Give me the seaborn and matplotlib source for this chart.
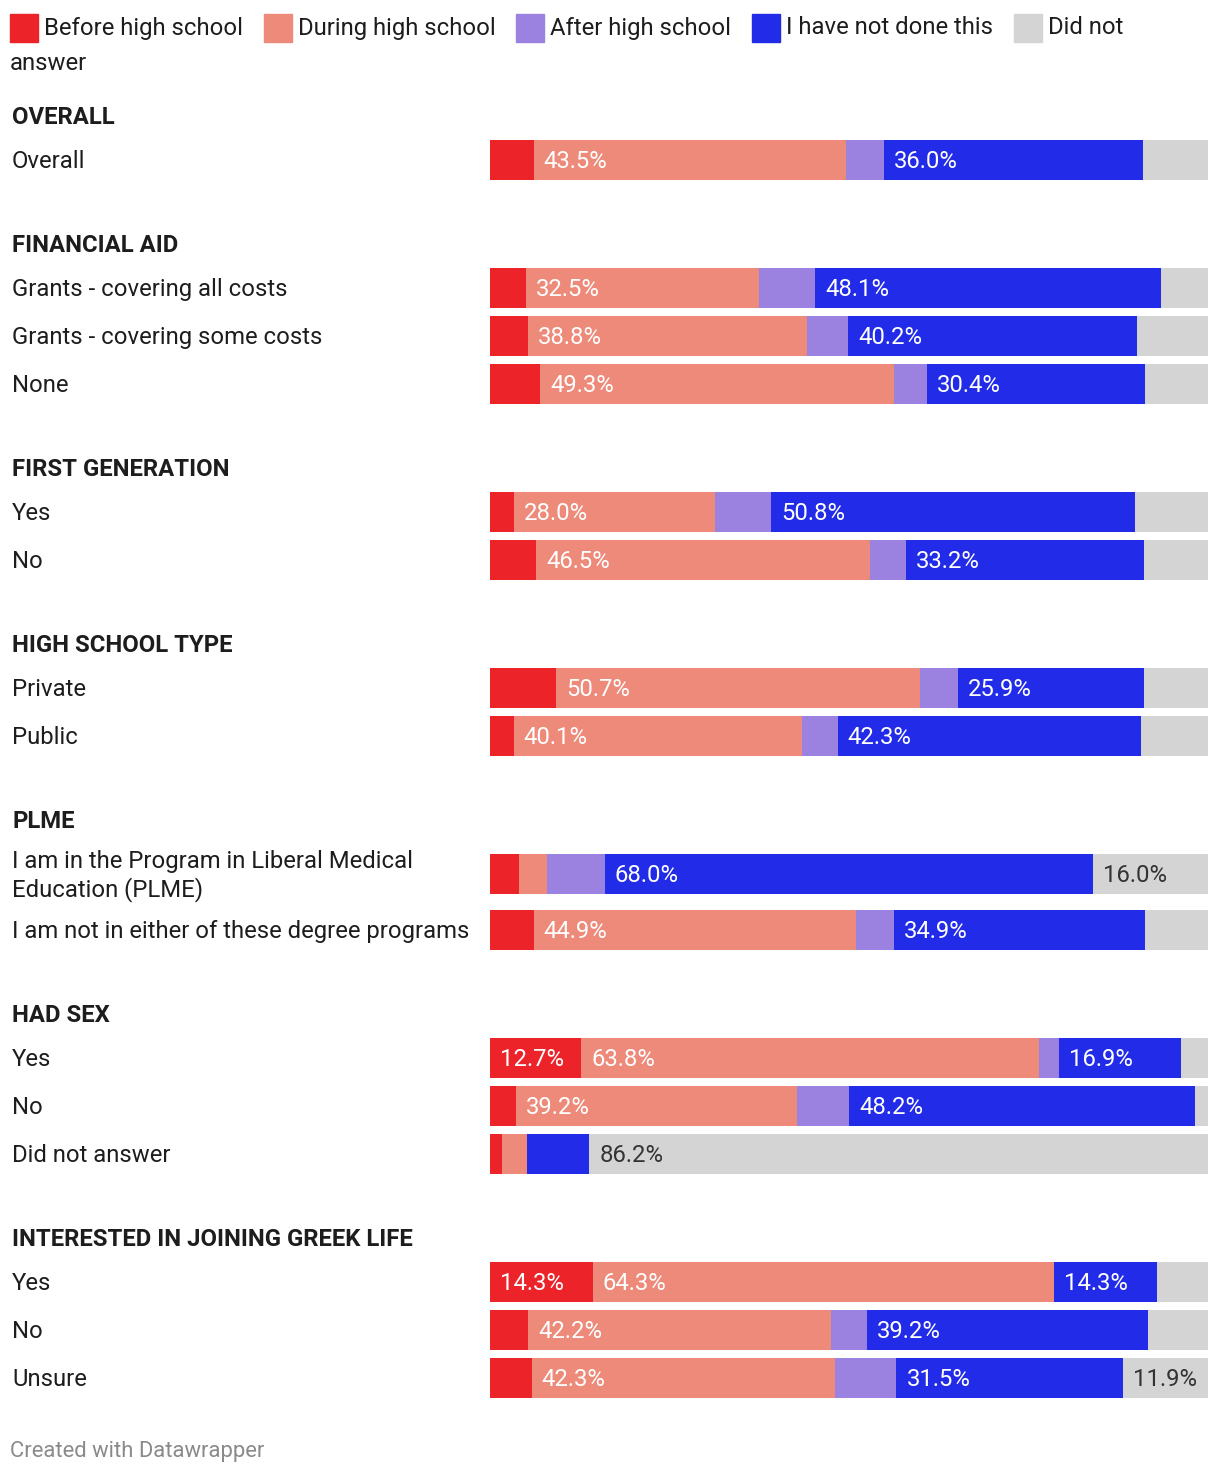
import numpy as np
import pandas as pd
import seaborn as sns
import matplotlib.pyplot as plt
from matplotlib.patches import Rectangle

# Data (percent of respondents)
series_names = ["Before high school", "During high school", "After high school",
                "I have not done this", "Did not answer"]
colors = ["#ec2329", "#ed8a7a", "#9b82e0", "#222ce8", "#d4d4d4"]

groups = ["OVERALL", "FINANCIAL AID", "FIRST GENERATION", "HIGH SCHOOL TYPE",
          "PLME", "HAD SEX", "INTERESTED IN JOINING GREEK LIFE"]
row_group = [0, 1, 1, 1, 2, 2, 3, 3, 4, 4, 5, 5, 5, 6, 6, 6]
row_labels = ["Overall",
              "Grants - covering all costs", "Grants - covering some costs", "None",
              "Yes", "No",
              "Private", "Public",
              "I am in the Program in Liberal Medical\nEducation (PLME)",
              "I am not in either of these degree programs",
              "Yes", "No", "Did not answer",
              "Yes", "No", "Unsure"]

before = [6.1, 5.0, 5.3, 7.0, 3.3, 6.4, 9.2, 3.3, 4.0, 6.1, 12.7, 3.6, 1.7, 14.3, 5.3, 5.8]
during = [43.5, 32.5, 38.8, 49.3, 28.0, 46.5, 50.7, 40.1, 4.0, 44.9, 63.8, 39.2, 3.5, 64.3, 42.2, 42.3]
after = [5.3, 7.8, 5.8, 4.5, 7.8, 5.0, 5.3, 5.0, 8.0, 5.3, 2.8, 7.2, 0.0, 0.0, 5.0, 8.5]
not_done = [36.0, 48.1, 40.2, 30.4, 50.8, 33.2, 25.9, 42.3, 68.0, 34.9, 16.9, 48.2, 8.6, 14.3, 39.2, 31.5]
no_answer = [9.1, 6.6, 9.9, 8.8, 10.1, 8.9, 8.9, 9.3, 16.0, 8.8, 3.8, 1.8, 86.2, 7.1, 8.3, 11.9]

sns.set_style("white")
plt.rcParams['font.family'] = ['Roboto', 'DejaVu Sans']

W, H = 1220, 1476
TXT = "#1d1d1d"
FS = 17.2
DY = 1.8  # text baseline nudge in pixels

# vertical layout in pixels from the top
pos, heads = [], []
y = 116 - 84
cur = None
for lab, g in zip(row_labels, row_group):
    tall = "\n" in lab
    if g != cur:
        y += 84
        heads.append(y)
        y += 44
        cur = g
    else:
        y += 48
    if tall:
        y += 10
    pos.append(y)
    if tall:
        y += 8

df = pd.DataFrame({"pos": pos, "label": row_labels,
                   series_names[0]: before, series_names[1]: during,
                   series_names[2]: after, series_names[3]: not_done,
                   series_names[4]: no_answer})
cum = df[series_names].cumsum(axis=1)

fig = plt.figure(figsize=(W / 100, H / 100), dpi=100)
ax = fig.add_axes([490 / W, 0, 718 / W, 1])

# stacked bars: draw cumulative totals from the longest to the shortest
for k in reversed(range(len(series_names))):
    sns.barplot(x=cum[series_names[k]], y=df["pos"], orient="h", native_scale=True,
                color=colors[k], saturation=1, width=40 / 48, errorbar=None,
                linewidth=0, ax=ax)

ax.set_xlim(0, 100)
ax.set_ylim(H, 0)
ax.axis("off")

# value labels inside segments
for i in range(len(df)):
    start = 0
    for k, name in enumerate(series_names):
        v = df[name].iloc[i]
        if v >= 10.5:
            c = "#333333" if k == 4 else "white"
            ax.text(start + 1.4, df["pos"].iloc[i] + DY, f"{v:.1f}%", color=c,
                    fontsize=FS, va="center", ha="left")
        start += v

# row labels and group headers
for lab, p in zip(row_labels, pos):
    fig.text(12 / W, 1 - (p + DY) / H, lab, fontsize=FS, color=TXT, va="center",
             ha="left", linespacing=1.22)
for g, hy in zip(groups, heads):
    fig.text(12 / W, 1 - (hy + DY) / H, g, fontsize=FS, color=TXT, va="center",
             ha="left", fontweight="bold")

# legend
sq_x = [10, 264, 516, 752, 1014]
for k, name in enumerate(series_names):
    fig.patches.append(Rectangle((sq_x[k] / W, 1 - 42 / H), 28 / W, 28 / H,
                                 transform=fig.transFigure, color=colors[k]))
    txt = name
    if k == 4:
        txt, rest = name.rsplit(" ", 1)
        fig.text(10 / W, 1 - 63 / H, rest, fontsize=FS, color=TXT, va="center")
    fig.text((sq_x[k] + 34) / W, 1 - 28 / H, txt, fontsize=FS, color=TXT, va="center")

fig.text(10 / W, 1 - 1451 / H, "Created with Datawrapper", fontsize=15.8,
         color="#8a8a8a", va="center")

fig.savefig("out.png", dpi=100)
